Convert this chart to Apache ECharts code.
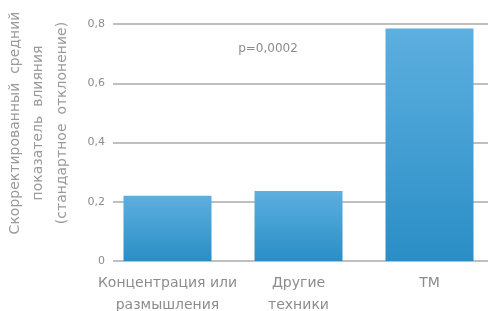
<!DOCTYPE html>
<html>
<head>
<meta charset="utf-8">
<script src="https://cdn.jsdelivr.net/npm/echarts@6/dist/echarts.min.js"></script>
<style>
  html, body { margin: 0; padding: 0; background: #fff; }
  #chart { width: 488px; height: 311px; }
</style>
</head>
<body>
<div id="chart"></div>
<script type="text/javascript">
  var categories = ['Концентрация или\nразмышления', 'Другие\nтехники', 'ТМ'];
  var values = [0.22, 0.236, 0.785];
  var yTicks = [0, 0.2, 0.4, 0.6, 0.8];
  var yTitle = 'Скорректированный  средний\nпоказатель  влияния\n(стандартное  отклонение)';
  var pNote = 'p=0,0002';

  var myChart = echarts.init(document.getElementById('chart'));
  var font = 'DejaVu Sans';
  var option = {
    animation: false,
    grid: [
      // gridlines + tick labels
      { left: 113, right: 0, top: 24, height: 237, outerBoundsMode: 'none', containLabel: false },
      // bars
      { left: 102, width: 393, top: 24, height: 237, outerBoundsMode: 'none', containLabel: false }
    ],
    xAxis: [
      { gridIndex: 0, type: 'category', data: categories, show: false },
      {
        gridIndex: 1, type: 'category', data: categories,
        axisLine: { show: false },
        axisTick: { show: false },
        axisLabel: {
          color: '#8c8c8c', fontSize: 14, fontFamily: font,
          margin: 11, lineHeight: 22, interval: 0
        }
      }
    ],
    yAxis: [
      {
        gridIndex: 0, type: 'value',
        min: yTicks[0], max: yTicks[yTicks.length - 1], interval: 0.2,
        axisLine: { show: false },
        axisTick: { show: false },
        splitLine: { lineStyle: { color: '#aaaaaa', width: 1.5 } },
        axisLabel: {
          color: '#8c8c8c', fontSize: 11, fontFamily: font, margin: 8,
          formatter: function (v) { return String(+v.toFixed(1)).replace('.', ','); }
        }
      },
      {
        gridIndex: 1, type: 'value',
        min: yTicks[0], max: yTicks[yTicks.length - 1], interval: 0.2,
        show: false, splitLine: { show: false }
      }
    ],
    graphic: [
      {
        type: 'text', x: 38.5, y: 123, rotation: Math.PI / 2,
        style: {
          text: yTitle, fill: '#9a9a9a', font: '14px "DejaVu Sans"',
          align: 'center', verticalAlign: 'middle', lineHeight: 23.5
        }
      },
      {
        type: 'text', x: 268, y: 49,
        style: {
          text: pNote, fill: '#8c8c8c', font: '12px "DejaVu Sans"',
          align: 'center', verticalAlign: 'middle'
        }
      }
    ],
    series: [
      {
        type: 'bar', xAxisIndex: 1, yAxisIndex: 1,
        data: values, barWidth: 88,
        itemStyle: {
          color: new echarts.graphic.LinearGradient(0, 0, 0, 1, [
            { offset: 0, color: '#5dafdf' },
            { offset: 1, color: '#2a8ec6' }
          ])
        }
      }
    ]
  };
  myChart.setOption(option);
</script>
</body>
</html>
